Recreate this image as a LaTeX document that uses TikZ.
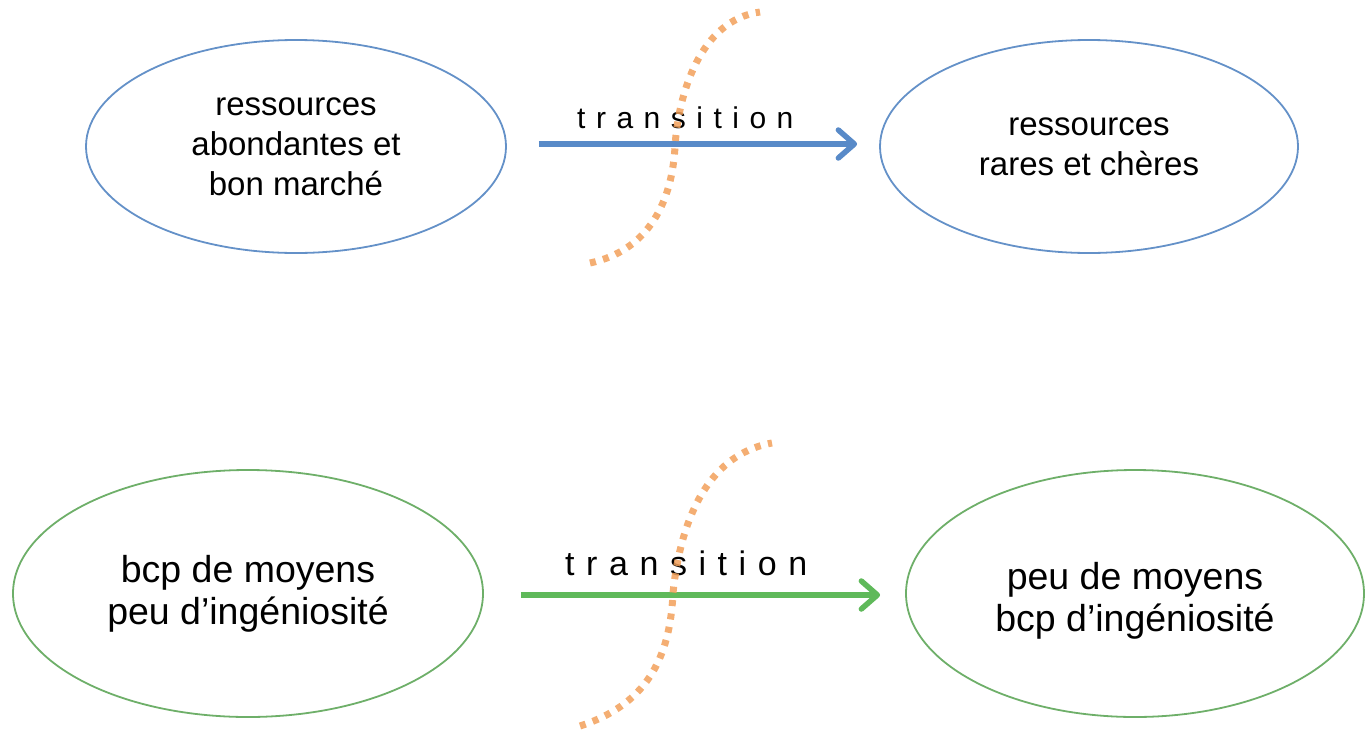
\documentclass[tikz,border=0pt]{standalone}
\usepackage{fontspec}
\setmainfont{Liberation Sans}
\usetikzlibrary{arrows.meta,shapes.geometric}
\definecolor{bluel}{RGB}{100,145,200}
\definecolor{bluea}{RGB}{88,138,200}
\definecolor{greenl}{RGB}{110,175,105}
\definecolor{greena}{RGB}{95,185,90}
\definecolor{orng}{RGB}{242,160,90}
\begin{document}
\begin{tikzpicture}[x=1pt,y=-1pt,
  blob/.style={ellipse,line width=1.8pt,inner sep=0pt,align=center,text=black},
  topfont/.style={font=\fontsize{33}{40}\selectfont},
  botfont/.style={font=\fontsize{37.5}{42}\selectfont},
  trarrow/.style={line width=5.5pt,-{Straight Barb[length=16pt,width=28pt,line cap=round,line join=round]}},
  sline/.style={orng,line width=7pt,dash pattern=on 6pt off 7.5pt,opacity=0.85},
  trlabel/.style={anchor=base west,inner sep=0pt,text=black}
]
\useasboundingbox (0,0) rectangle (1366,734);
% top row
\node[blob,draw=bluel,topfont,minimum width=420pt,minimum height=213pt] (a) at (296,146.5)
  {ressources\\abondantes et\\bon marché};
\node[blob,draw=bluel,topfont,minimum width=418pt,minimum height=213pt] (b) at (1089,146.5)
  {ressources\\rares et chères};
\draw[trarrow,bluea,shorten <=32pt,shorten >=22pt] ([yshift=2.5pt]a.east) -- ([yshift=2.5pt]b.west);
\node[trlabel,font=\fontsize{30}{36}\selectfont\addfontfeature{LetterSpace=35}] (t1) at (577,128) {transition};
\coordinate (s1a) at (590,263);
\coordinate (s1m) at (675,147);
\coordinate (s1b) at (760,12);
\draw[sline] (s1a) .. controls (650,250) and (672,200) .. (s1m) .. controls (678,95) and (700,20) .. (s1b);
% bottom row
\node[blob,draw=greenl,botfont,minimum width=470pt,minimum height=247pt] (c) at (248,593.5)
  {bcp de moyens\\peu d’ingéniosité};
\node[blob,draw=greenl,botfont,minimum width=458pt,minimum height=247pt] (d) at (1135,593.5)
  {\rule{0pt}{42pt}peu de moyens\\bcp d’ingéniosité};
\draw[trarrow,greena,shorten <=37pt,shorten >=25pt] ([yshift=-1.5pt]c.east) -- ([yshift=-1.5pt]d.west);
\node[trlabel,font=\fontsize{34}{40}\selectfont\addfontfeature{LetterSpace=34}] (t2) at (565,575) {transition};
\coordinate (s2a) at (580,726);
\coordinate (s2m) at (673,593);
\coordinate (s2b) at (772,443);
\draw[sline] (s2a) .. controls (645,705) and (670,660) .. (s2m) .. controls (680,525) and (705,455) .. (s2b);
\end{tikzpicture}
\end{document}
